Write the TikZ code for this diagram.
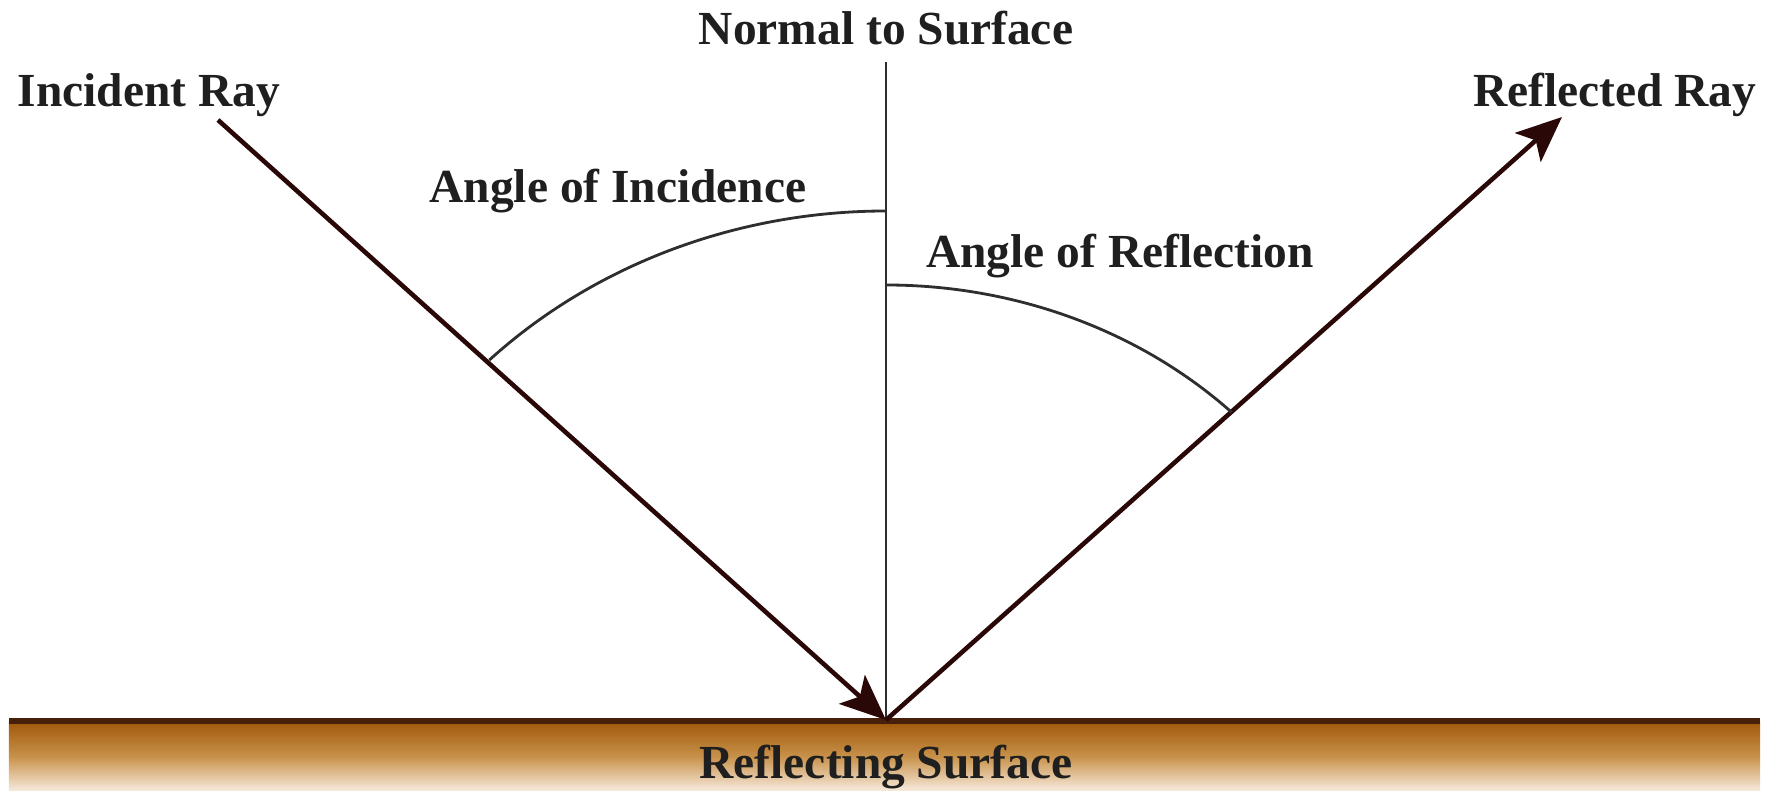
\documentclass[tikz,border=0pt]{standalone}
\usepackage{fontspec}
\setmainfont{Liberation Serif}
\usetikzlibrary{arrows.meta}
\definecolor{raycol}{HTML}{2A0808}
\definecolor{guide}{HTML}{2E2E2E}
\definecolor{wood}{HTML}{A0590C}
\definecolor{woodmid}{HTML}{C8914A}
\definecolor{woodpale}{HTML}{F7EBDD}
\definecolor{edge}{HTML}{46200A}

\begin{document}
\begin{tikzpicture}[
  ray/.style={draw=raycol, line width=1.3pt,
              -{Stealth[length=13pt, width=11pt, inset=3pt]}},
  lbl/.style={font=\fontsize{13.5}{16}\selectfont\bfseries, text=black!88,
              inner sep=0pt},
  angarc/.style={draw=guide, line width=0.8pt}
]
  \useasboundingbox (0,0) rectangle (17.8,7.91);

  % reflecting surface
  \shade[top color=wood, bottom color=woodpale, middle color=woodmid]
    (0.09,0) rectangle (17.60,0.69);
  \draw[edge, line width=1.6pt] (0.09,0.70) -- (17.60,0.70);

  \coordinate (hit) at (8.86,0.71);
  \coordinate (top) at (8.86,7.29);
  \coordinate (src) at (2.18,6.71);
  \coordinate (dst) at (15.62,6.74);

  \draw[guide, line width=0.7pt] (hit) -- (top);
  \draw[ray] (src) -- (hit);
  \draw[ray] (hit) -- (dst);

  % angle arcs
  \draw[angarc] ([shift={(135:5.61 and 5.09)}]hit)
    arc[start angle=135, end angle=90, x radius=5.61, y radius=5.09];
  \draw[angarc] ([shift={(90:4.89 and 4.35)}]hit)
    arc[start angle=90, end angle=45, x radius=4.89, y radius=4.35];

  \node[lbl, anchor=base] (normlbl) at (8.86,7.46) {Normal to Surface};
  \node[lbl, anchor=base west] (inclbl) at (0.17,6.84) {Incident Ray};
  \node[lbl, anchor=base east] (reflbl) at (17.57,6.84) {Reflected Ray};
  \node[lbl, anchor=base] (incang) at (6.18,5.88) {Angle of Incidence};
  \node[lbl, anchor=base] (refang) at (11.20,5.23) {Angle of Reflection};
  \node[lbl, anchor=base] (surflbl) at (8.86,0.12) {Reflecting Surface};
\end{tikzpicture}
\end{document}
